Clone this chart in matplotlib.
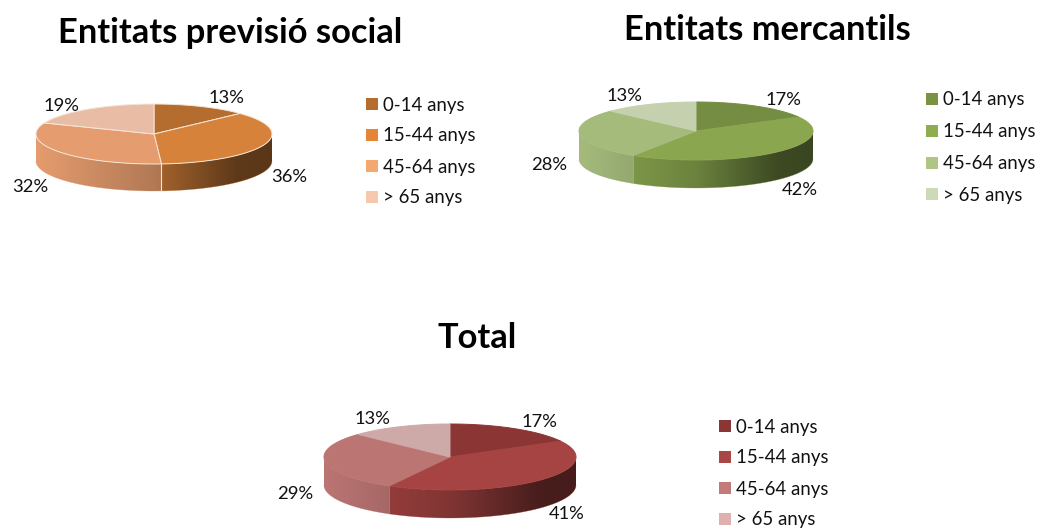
import numpy as np
import matplotlib
matplotlib.use('Agg')
import matplotlib.pyplot as plt
from matplotlib.patches import Polygon, Rectangle

plt.rcParams['font.family'] = ['Lato', 'DejaVu Sans']

age_groups = ['0-14 anys', '15-44 anys', '45-64 anys', '> 65 anys']

previsio_values = [13, 36, 32, 19]
mercantils_values = [17, 42, 28, 13]
total_values = [17, 41, 29, 13]

previsio_title = 'Entitats previsió social'
mercantils_title = 'Entitats mercantils'
total_title = 'Total'

previsio_colors = ['#b46d2e', '#d7823a', '#e59c6e', '#e9bda5']
mercantils_colors = ['#748d42', '#8aa74f', '#a5bb7c', '#c5d1ae']
total_colors = ['#8b3634', '#a54442', '#bb7573', '#cda9a8']

legend_previsio = ['#b46d2e', '#e58535', '#f4a871', '#f6c8ad']
legend_mercantils = ['#7a9343', '#8fac50', '#afc583', '#cddab8']
legend_total = ['#8b3634', '#aa4644', '#c27b79', '#deb1b0']

fig = plt.figure(figsize=(10.37, 5.28), dpi=100)
ax = fig.add_axes([0, 0, 1, 1])


def darker(color, k):
    return np.array(matplotlib.colors.to_rgb(color)) * k


def draw_pie(values, colors, cx, cy, rx, ry, depth, edge=None):
    fracs = np.cumsum([0] + values) / sum(values) * 2 * np.pi
    shade = np.interp(np.linspace(0, 1, 256), [0, 0.5, 0.85, 1], [1.0, 0.78, 0.44, 0.42])

    # front wall: gradient image clipped to the wall of each slice
    for i in range(len(values)):
        a = np.linspace(fracs[i], fracs[i + 1], 200)
        a = a[(a > np.pi / 2) & (a < 3 * np.pi / 2)]
        if len(a) < 2:
            continue
        x = cx + rx * np.sin(a)
        y = cy - ry * np.cos(a)
        wall = list(zip(x, y)) + list(zip(x[::-1], y[::-1] + depth))
        grad = np.array([[darker(colors[i], s) for s in shade]])
        im = ax.imshow(grad, extent=(cx - rx, cx + rx, cy + ry + depth, cy - ry), aspect='auto', zorder=2)
        clip = Polygon(wall, closed=True, transform=ax.transData)
        im.set_clip_path(clip)
        # thin outline hides the hard clip edge
        ax.plot(x, y + depth, color=darker(colors[i], 0.9), lw=0.4, alpha=0.5, zorder=2)

    # top face
    for i in range(len(values)):
        a = np.linspace(fracs[i], fracs[i + 1], 100)
        pts = [(cx, cy)] + list(zip(cx + rx * np.sin(a), cy - ry * np.cos(a)))
        ec = edge if edge else colors[i]
        ax.add_patch(Polygon(pts, closed=True, facecolor=colors[i], edgecolor=ec, linewidth=0.7, zorder=3))

    if edge:
        for f in fracs[:-1]:
            if np.pi / 2 < f < 3 * np.pi / 2:
                x = cx + rx * np.sin(f)
                y = cy - ry * np.cos(f)
                ax.plot([x, x], [y, y + depth], color=edge, lw=0.8, zorder=4)


def draw_legend(x, ys, colors):
    for i in range(4):
        ax.add_patch(Rectangle((x, ys[i] - 6), 12, 12, facecolor=colors[i], edgecolor='none'))
        ax.text(x + 17, ys[i] + 1, age_groups[i], fontsize=13.4, color='#111111', va='center', ha='left')


def draw_labels(values, xs, ys):
    for i in range(4):
        ax.text(xs[i], ys[i] + 1, str(values[i]) + '%', fontsize=13.2, color='#111111', va='center', ha='center')


draw_pie(previsio_values, previsio_colors, 154, 134, 118, 30, 27, edge='#f6e6d8')
draw_pie(mercantils_values, mercantils_colors, 696, 131, 117, 29, 28)
draw_pie(total_values, total_colors, 450, 457, 126, 33, 28)

draw_labels(previsio_values, [226, 289, 30, 61], [97, 176, 186, 105])
draw_labels(mercantils_values, [783, 800, 549, 624], [99, 189, 164, 95])
draw_labels(total_values, [539, 567, 295, 372], [421, 513, 493, 418])

draw_legend(366, [104, 135, 166, 197], legend_previsio)
draw_legend(926, [99, 131, 163, 194], legend_mercantils)
draw_legend(719, [426, 457, 488, 519], legend_total)

ax.text(230, 33, previsio_title, fontsize=24.8, fontweight='bold', ha='center', va='center', color='#000000')
ax.text(767, 30, mercantils_title, fontsize=24.8, fontweight='bold', ha='center', va='center', color='#000000')
ax.text(477, 338, total_title, fontsize=24.8, fontweight='bold', ha='center', va='center', color='#000000')

ax.set_xlim(0, 1037)
ax.set_ylim(528, 0)
ax.axis('off')

fig.savefig('out.png', dpi=100)
